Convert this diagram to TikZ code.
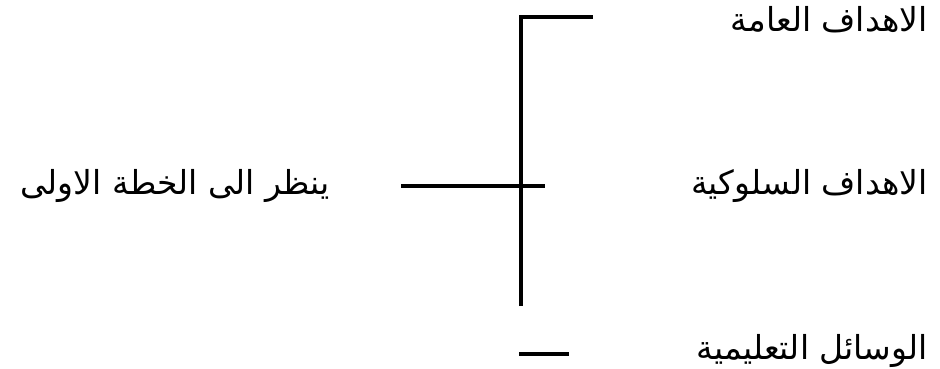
\documentclass[tikz,border=0pt]{standalone}
\usepackage{fontspec}
\TeXXeTstate=1
\newfontfamily\arabicfont[Script=Arabic]{DejaVu Sans}
\begin{document}
\begin{tikzpicture}[x=1pt,y=-1pt,
  bar/.style={line width=4.5pt},
  lbl/.style={font=\arabicfont\fontsize{33}{38}\selectfont, inner sep=0pt, anchor=east}]
\useasboundingbox (0,0) rectangle (940,369);
\coordinate (vt) at (521,15);
\coordinate (vb) at (521,306);
\coordinate (tr) at (593,17);
\coordinate (ml) at (401,186);
\coordinate (mr) at (545,186);
\coordinate (bl) at (519,354);
\coordinate (br) at (569,354);
\draw[bar] (vb) -- (vt |- tr) -- (tr);
\draw[bar] (ml) -- (mr);
\draw[bar] (bl) -- (br);
\node[lbl] (t1) at (928,20) {\beginR الاهداف العامة\endR};
\node[lbl] (t2) at (928,186) {\beginR الاهداف السلوكية\endR};
\node[lbl] (t3) at (928,351) {\beginR الوسائل التعليمية\endR};
\node[lbl] (t4) at (330,186) {\beginR ينظر الى الخطة الاولى\endR};
\end{tikzpicture}
\end{document}
